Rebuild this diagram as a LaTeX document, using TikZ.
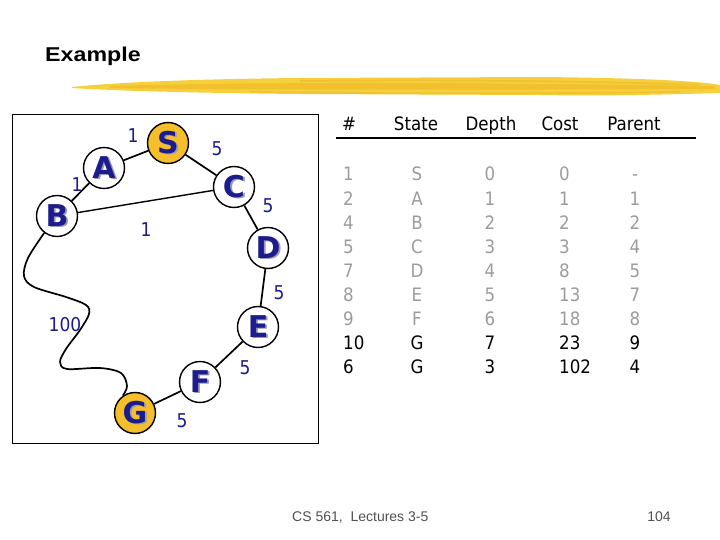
\documentclass[tikz,border=0pt]{standalone}
\usepackage{fontspec}
\setmainfont{Liberation Sans}
\newfontfamily\tabfont{DejaVu Sans Condensed}
\newfontfamily\letfont{DejaVu Sans}
\definecolor{nodeblue}{HTML}{1C1C8C}
\definecolor{shadowc}{HTML}{9A9AB8}
\definecolor{goldfill}{HTML}{F4BF2A}
\definecolor{brushA}{HTML}{F6D03C}
\definecolor{brushB}{HTML}{EDB624}
\definecolor{lightgray}{HTML}{9C9C9C}
\definecolor{footgray}{HTML}{505050}
\newcommand\shl[1]{\rlap{\kern1.8pt\raisebox{-1.8pt}{\color{shadowc}#1}}#1}
\begin{document}
\begin{tikzpicture}[x=1pt,y=-1pt,
  gnode/.style={circle,draw=black,line width=1.4pt,fill=white,minimum size=41pt,inner sep=0pt,
    text=nodeblue,font=\letfont\bfseries\fontsize{30}{30}\selectfont},
  goal/.style={gnode,fill=goldfill},
  edge/.style={line width=1.7pt,black},
  elabel/.style={text=nodeblue,font=\tabfont\fontsize{19}{19}\selectfont,inner sep=0pt},
  hdr/.style={font=\tabfont\fontsize{18.5}{18.5}\selectfont,inner sep=0pt,anchor=base},
  cell/.style={font=\tabfont\fontsize{18.5}{18.5}\selectfont,inner sep=0pt,anchor=base},
  cellw/.style={cell,anchor=base west}]
\useasboundingbox (0,0) rectangle (720,540);
% title
\node[anchor=base west,inner sep=0pt,font=\bfseries\fontsize{20}{20}\selectfont,xscale=1.16] (title) at (45,62) {Example};
% brush stroke
\fill[brushA] (72,87) .. controls (120,82) and (200,79) .. (300,78) -- (540,77) .. controls (640,78) and (700,81) .. (720,85)
  -- (720,93) .. controls (650,95) and (600,96) .. (540,95) -- (300,94) .. controls (200,93) and (120,91) .. (72,88) -- cycle;
\fill[brushB,opacity=0.6] (110,86) .. controls (250,82) and (450,82) .. (715,86) -- (715,89) .. controls (450,90) and (250,90) .. (110,88) -- cycle;
\fill[brushB,opacity=0.5] (300,80) .. controls (400,79) and (550,79) .. (700,84) -- (700,85.5) .. controls (550,81) and (400,81) .. (300,82) -- cycle;
\fill[brushB,opacity=0.5] (250,91) .. controls (400,93) and (550,93) .. (680,91) -- (680,92.5) .. controls (550,95) and (400,95) .. (250,92.5) -- cycle;
% frame
\draw[line width=0.8pt] (12,114) rectangle (318,443);
% nodes
\node[goal]  (S) at (168,143) {\shl{S}};
\node[gnode] (A) at (104,168) {\shl{A}};
\node[gnode] (B) at (57,216)  {\shl{B}};
\node[gnode] (C) at (234,187) {\shl{C}};
\node[gnode] (D) at (268,248) {\shl{D}};
\node[gnode] (E) at (258,327) {\shl{E}};
\node[gnode] (F) at (200,382) {\shl{F}};
\node[goal]  (G) at (135,413) {\shl{G}};
% edges
\draw[edge] (A) -- (S);
\draw[edge] (B) -- (A);
\draw[edge] (S) -- (C);
\draw[edge,line width=1.4pt] (B) -- (C);
\draw[edge] (C) -- (D);
\draw[edge] (D) -- (E);
\draw[edge] (E) -- (F);
\draw[edge] (F) -- (G);
\draw[edge] plot[smooth,tension=0.55] coordinates {(B.233) (28,258) (24,276) (34,287) (66,297) (86,305) (89,314) (80,330) (66,349) (60,362) (67,369) (100,368) (121,373) (127,386) (G.125)};
% edge labels
\node[elabel] (l1) at (133,136) {1};
\node[elabel] (l2) at (217,149) {5};
\node[elabel] (l3) at (77,185)  {1};
\node[elabel] (l4) at (146,230) {1};
\node[elabel] (l5) at (268,206) {5};
\node[elabel] (l6) at (279,293) {5};
\node[elabel] (l7) at (65,325)  {100};
\node[elabel] (l8) at (245,368) {5};
\node[elabel] (l9) at (182,421) {5};
% table header
\node[hdr] (h1) at (349,131) {\#};
\node[hdr] (h2) at (416,131) {State};
\node[hdr] (h3) at (491,131) {Depth};
\node[hdr] (h4) at (560,131) {Cost};
\node[hdr] (h5) at (634,131) {Parent};
\coordinate (ulA) at (336,138);
\coordinate (ulB) at (696,138);
\draw[line width=2.2pt] (ulA) -- (ulB);
% table rows
\foreach \n/\s/\d/\c/\p [count=\i from 0] in {1/S/0/0/-,2/A/1/1/1,4/B/2/2/2,5/C/3/3/4,7/D/4/8/5,8/E/5/13/7,9/F/6/18/8}{
  \node[cellw,text=lightgray] (r\i n) at (343,181+24.1*\i) {\n};
  \node[cell,text=lightgray]  (r\i s) at (417,181+24.1*\i) {\s};
  \node[cell,text=lightgray]  (r\i d) at (490,181+24.1*\i) {\d};
  \node[cellw,text=lightgray] (r\i c) at (559,181+24.1*\i) {\c};
  \node[cell,text=lightgray]  (r\i p) at (635,181+24.1*\i) {\p};
}
\foreach \n/\s/\d/\c/\p [count=\i from 7] in {10/G/7/23/9,6/G/3/102/4}{
  \node[cellw] (r\i n) at (343,181+24.1*\i) {\n};
  \node[cell]  (r\i s) at (417,181+24.1*\i) {\s};
  \node[cell]  (r\i d) at (490,181+24.1*\i) {\d};
  \node[cellw] (r\i c) at (559,181+24.1*\i) {\c};
  \node[cell]  (r\i p) at (635,181+24.1*\i) {\p};
}
% footer
\node[anchor=base west,inner sep=0pt,text=footgray,font=\fontsize{14}{14}\selectfont] (foot) at (292,521) {CS 561,\ \ Lectures 3-5};
\node[anchor=base,inner sep=0pt,text=footgray,font=\fontsize{14}{14}\selectfont] (page) at (659,521) {104};
\end{tikzpicture}
\end{document}
